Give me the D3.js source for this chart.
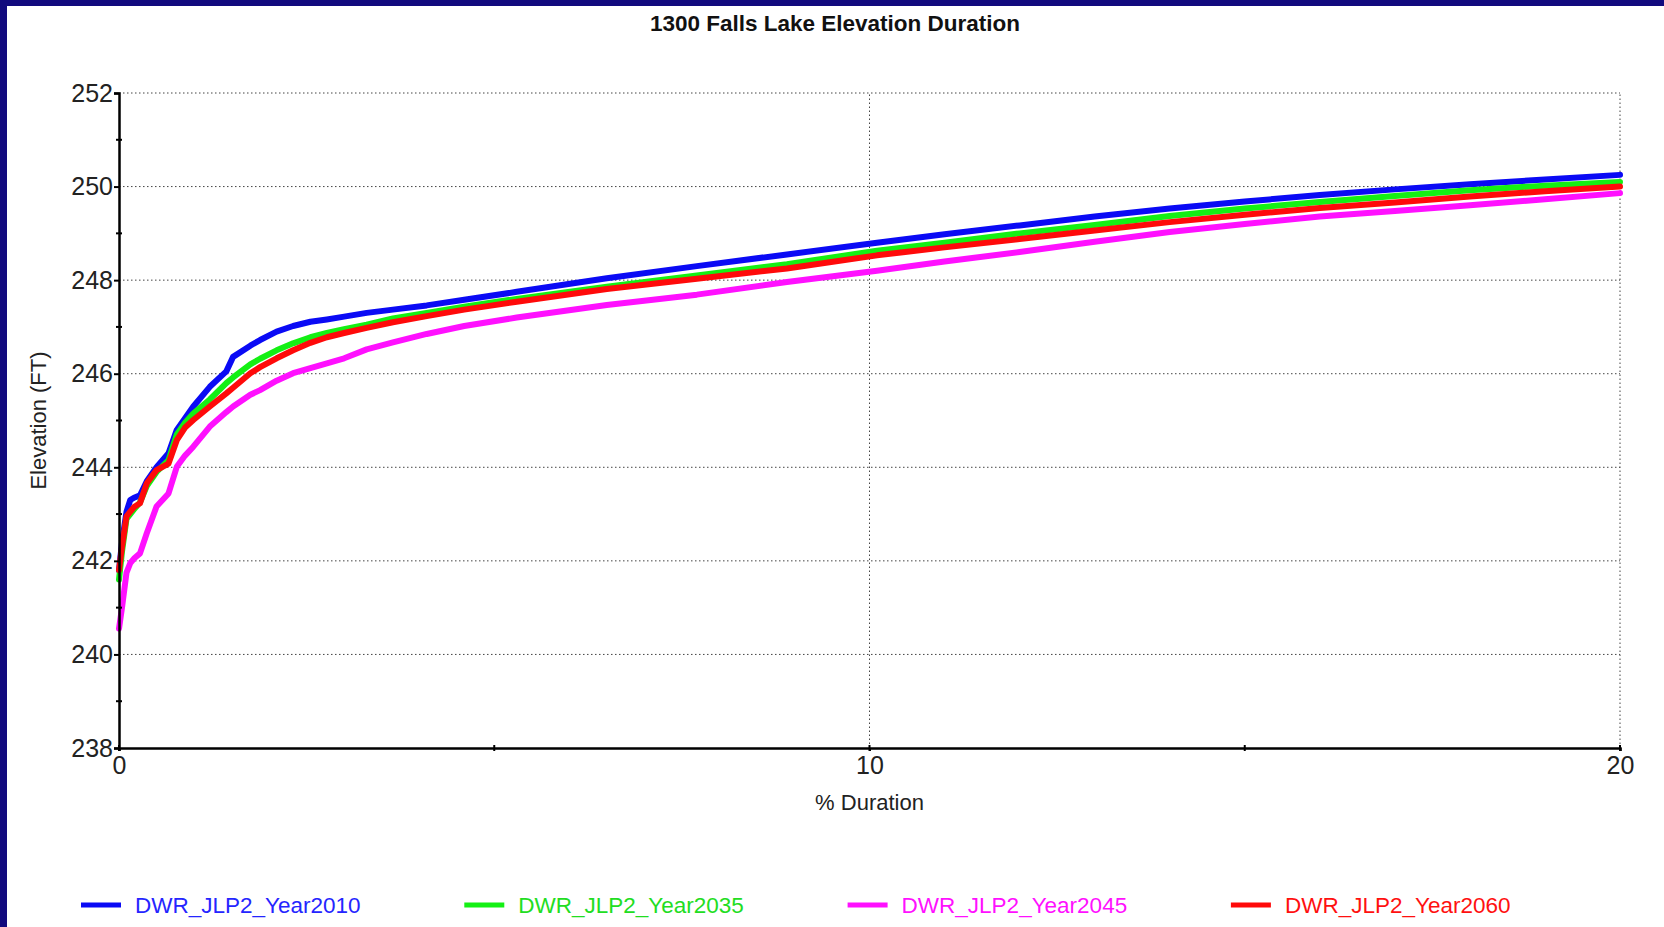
<!DOCTYPE html>
<html>
<head>
<meta charset='utf-8'>
<script src='https://d3js.org/d3.v7.min.js'></script>
<style>
  body { margin: 0; background: #fff; }
  svg text { font-family: "Liberation Sans", Arial, sans-serif; }
  .grid line { stroke: #444; stroke-width: 1; stroke-dasharray: 1.5,2.5; }
  .axis path, .axis line { stroke: #000; }
  .axis path { stroke-width: 2.5; }
  .axis line { stroke-width: 2; }
  .axis text { font-size: 25px; fill: #222; }
</style>
</head>
<body>
<script>
    // % duration (x) shared by all series
    var duration = [0, 0.04, 0.1, 0.15, 0.2, 0.28, 0.37, 0.5, 0.66, 0.77, 0.88, 0.99, 1.21, 1.43, 1.52, 1.75, 1.88, 2.1, 2.32, 2.55, 2.77, 3.0, 3.3, 3.65, 4.1, 4.6, 5.3, 6.5, 7.7, 8.9, 10.1, 11, 12, 13, 14, 15, 16, 17, 18, 19, 20];

    var year2010 = [241.8, 242.4, 243.05, 243.3, 243.35, 243.4, 243.7, 244.0, 244.3, 244.8, 245.05, 245.3, 245.72, 246.05, 246.36, 246.6, 246.72, 246.9, 247.02, 247.11, 247.16, 247.22, 247.3, 247.37, 247.46, 247.58, 247.75, 248.04, 248.3, 248.55, 248.8, 248.98, 249.17, 249.36, 249.53, 249.68, 249.82, 249.94, 250.05, 250.15, 250.25];
    var year2035 = [241.6, 242.2, 242.9, 243.0, 243.1, 243.25, 243.6, 243.9, 244.15, 244.7, 244.95, 245.15, 245.45, 245.8, 245.92, 246.2, 246.32, 246.5, 246.65, 246.78, 246.87, 246.95, 247.05, 247.18, 247.3, 247.43, 247.6, 247.86, 248.1, 248.34, 248.63, 248.8, 249.0, 249.18, 249.37, 249.53, 249.67, 249.8, 249.92, 250.02, 250.1];
    var year2045 = [240.55, 241.0, 241.75, 241.95, 242.05, 242.16, 242.59, 243.16, 243.44, 244.01, 244.25, 244.44, 244.87, 245.18, 245.3, 245.55, 245.65, 245.85, 246.01, 246.12, 246.22, 246.33, 246.52, 246.67, 246.85, 247.02, 247.2, 247.47, 247.69, 247.96, 248.2, 248.4, 248.6, 248.82, 249.03, 249.2, 249.36, 249.48, 249.6, 249.73, 249.86];
    var year2060 = [241.8, 242.3, 242.95, 243.05, 243.15, 243.23, 243.66, 243.94, 244.08, 244.58, 244.85, 245.01, 245.3, 245.58, 245.7, 246.01, 246.14, 246.33, 246.5, 246.66, 246.78, 246.87, 246.98, 247.1, 247.23, 247.37, 247.54, 247.81, 248.03, 248.25, 248.53, 248.7, 248.88, 249.06, 249.24, 249.4, 249.54, 249.66, 249.79, 249.9, 250.0];

    var seriesNames = ['DWR_JLP2_Year2010', 'DWR_JLP2_Year2035', 'DWR_JLP2_Year2045', 'DWR_JLP2_Year2060'];
    var seriesValues = [year2010, year2035, year2045, year2060];
    var lineColors = ['#0a0af5', '#14f014', '#ff10ff', '#ff0a0a'];
    var textColors = ['#2525ff', '#22dd22', '#ff10ff', '#ff1010'];

    var yMajor = [238, 240, 242, 244, 246, 248, 250, 252];
    var yMinor = [239, 241, 243, 245, 247, 249, 251];
    var xLabelled = [0, 10, 20];
    var xMinor = [5, 15];

    const W = 1664, H = 927;
    const margin = { left: 119, right: 44, top: 93, bottom: 179 };

    var svg = d3.select('body').append('svg')
        .attr('width', W)
        .attr('height', H);

    svg.append('rect').attr('width', W).attr('height', H).attr('fill', '#fff');
    // frame of the slide
    svg.append('rect').attr('x', 0).attr('y', 0).attr('width', W).attr('height', 6).attr('fill', '#110a7e');
    svg.append('rect').attr('x', 0).attr('y', 0).attr('width', 7).attr('height', H).attr('fill', '#110a7e');

    const x = d3.scaleLinear().domain([0, 20]).range([margin.left, W - margin.right]);
    const y = d3.scaleLinear().domain([238, 252]).range([H - margin.bottom, margin.top]);

    // grid
    var grid = svg.append('g').attr('class', 'grid');
    grid.selectAll('.hg').data(yMajor.slice(1)).enter().append('line')
        .attr('x1', x(0)).attr('x2', x(20))
        .attr('y1', d => y(d)).attr('y2', d => y(d));
    grid.selectAll('.vg').data([10, 20]).enter().append('line')
        .attr('x1', d => x(d)).attr('x2', d => x(d))
        .attr('y1', y(238)).attr('y2', y(252));

    // series, red drawn last
    var line = d3.line()
        .x((d, i) => x(duration[i]))
        .y(d => y(d));

    svg.append('g').selectAll('path').data(seriesValues).enter().append('path')
        .attr('d', line)
        .attr('fill', 'none')
        .attr('stroke', (d, i) => lineColors[i])
        .attr('stroke-width', 6)
        .attr('stroke-linejoin', 'round')
        .attr('stroke-linecap', 'round');

    // axes
    var yAxis = svg.append('g').attr('class', 'axis')
        .attr('transform', 'translate(' + x(0) + ',0)')
        .call(d3.axisLeft(y).tickValues(yMajor).tickSize(5).tickPadding(1).tickFormat(d3.format('d')));
    yAxis.selectAll('.tick line').attr('stroke-width', 2);
    yAxis.append('g').selectAll('line').data(yMinor).enter().append('line')
        .attr('x1', -3).attr('x2', 3)
        .attr('y1', d => y(d)).attr('y2', d => y(d))
        .attr('stroke', '#000').attr('stroke-width', 2);

    var xAxis = svg.append('g').attr('class', 'axis')
        .attr('transform', 'translate(0,' + y(238) + ')')
        .call(d3.axisBottom(x).tickValues(xLabelled).tickSize(3).tickPadding(5).tickFormat(d3.format('d')));
    xAxis.append('g').selectAll('line').data(xMinor.concat(xLabelled)).enter().append('line')
        .attr('x1', d => x(d)).attr('x2', d => x(d))
        .attr('y1', -3).attr('y2', 3)
        .attr('stroke', '#000').attr('stroke-width', 2);

    // titles
    svg.append('text')
        .attr('x', 835).attr('y', 31)
        .attr('text-anchor', 'middle')
        .style('font-size', '22.5px').style('font-weight', 'bold').attr('fill', '#111')
        .text('1300 Falls Lake Elevation Duration');

    svg.append('text')
        .attr('x', (x(0) + x(20)) / 2).attr('y', 810)
        .attr('text-anchor', 'middle')
        .style('font-size', '22px').attr('fill', '#222')
        .text('% Duration');

    svg.append('text')
        .attr('transform', 'translate(46,' + ((y(238) + y(252)) / 2) + ') rotate(-90)')
        .attr('text-anchor', 'middle')
        .style('font-size', '22px').attr('fill', '#222')
        .text('Elevation (FT)');

    // legend
    var legend = svg.append('g').selectAll('g').data(seriesNames).enter().append('g')
        .attr('transform', (d, i) => 'translate(' + (81 + i * 383.3) + ',905)');
    legend.append('line')
        .attr('x1', 0).attr('x2', 40).attr('y1', 0).attr('y2', 0)
        .attr('stroke', (d, i) => lineColors[i]).attr('stroke-width', 5);
    legend.append('text')
        .attr('x', 54).attr('y', 8)
        .style('font-size', '22.5px')
        .attr('fill', (d, i) => textColors[i])
        .text(d => d);
</script>
</body>
</html>
